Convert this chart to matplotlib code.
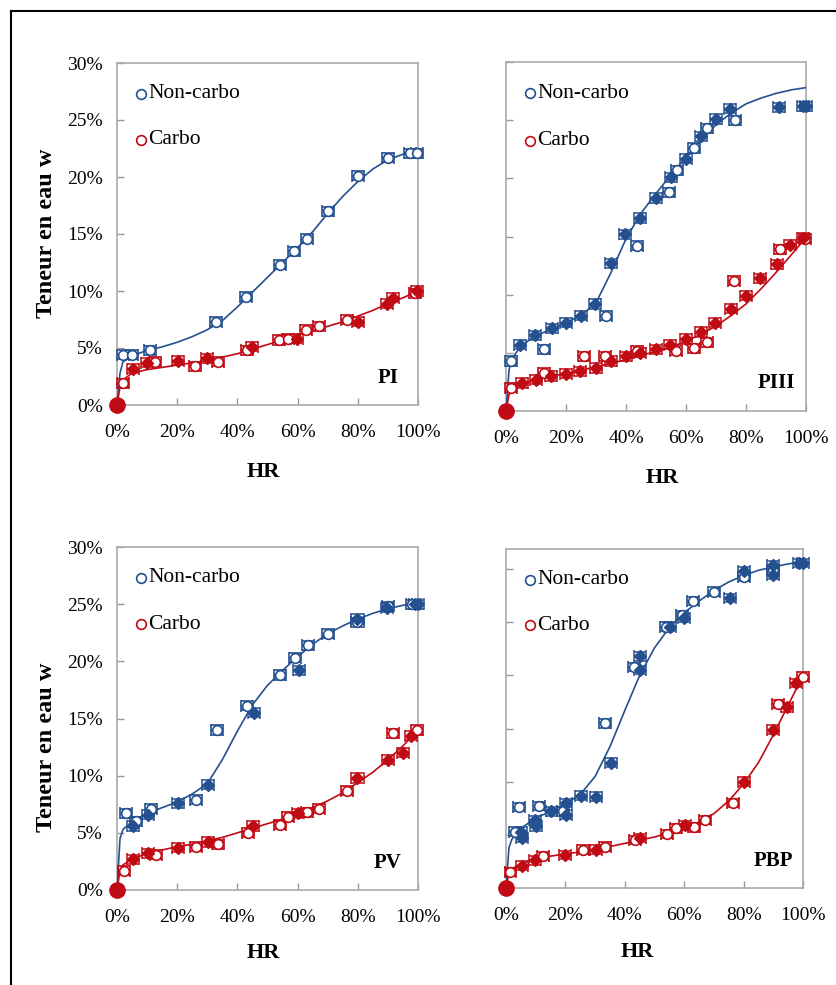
import matplotlib
matplotlib.use("Agg")
import matplotlib.pyplot as plt
from matplotlib.lines import Line2D
from matplotlib.ticker import FuncFormatter

plt.rcParams["font.family"] = ["Liberation Serif", "DejaVu Serif"]

# relative humidity grid (%) used for the fitted curves
curve_hr = [0, 1, 2, 5, 10, 15, 20, 25, 30, 35, 40, 45, 50, 55, 60, 65, 70, 75, 80, 85, 90, 95, 100]

# ---- PI ----
pi_nc_curve = [0, 2.8, 3.8, 4.3, 4.8, 5.1, 5.5, 6.0, 6.6, 7.4, 8.6, 9.9, 11.2, 12.5, 13.8, 15.2, 16.8, 18.3, 19.6, 20.7, 21.5, 22.0, 22.3]
pi_c_curve = [0, 1.6, 2.2, 2.8, 3.1, 3.3, 3.5, 3.7, 3.9, 4.2, 4.5, 4.9, 5.3, 5.7, 6.1, 6.5, 6.9, 7.3, 7.8, 8.3, 8.9, 9.4, 10.0]
pi_nc_open = [(2.1, 4.4), (4.9, 4.4), (11, 4.8), (33, 7.3), (42.7, 9.5), (54.2, 12.3), (58.8, 13.5),
              (63, 14.6), (70, 17.0), (80, 20.1), (90.1, 21.7), (97.3, 22.1), (99.6, 22.1)]
pi_nc_filled = []
pi_c_open = [(1.9, 1.9), (12.6, 3.8), (25.9, 3.4), (33.7, 3.8), (43.3, 4.8), (53.9, 5.7), (56.9, 5.8),
             (62.8, 6.6), (67.1, 6.9), (76.3, 7.5), (99, 9.8)]
pi_c_filled = [(0, 0), (5.2, 3.2), (9.9, 3.7), (20.2, 3.9), (30, 4.1), (45, 5.1), (59.7, 5.8), (80, 7.3),
               (89.6, 8.9), (91.8, 9.4), (99.6, 10.0)]

# ---- PIII ----
piii_nc_curve = [0, 3.5, 4.5, 5.6, 6.5, 7.0, 7.6, 8.2, 9.3, 11.9, 14.8, 17.0, 18.7, 20.3, 21.8, 23.3, 24.6, 25.6, 26.4, 26.9, 27.3, 27.6, 27.8]
piii_c_curve = [0, 1.4, 1.8, 2.3, 2.7, 3.0, 3.2, 3.5, 3.8, 4.1, 4.4, 4.8, 5.1, 5.5, 6.0, 6.6, 7.3, 8.2, 9.2, 10.5, 11.9, 13.4, 14.9]
piii_nc_open = [(1.7, 4.3), (12.5, 5.3), (33.3, 8.2), (43.6, 14.2), (54.2, 18.8), (56.9, 20.7),
                (62.7, 22.6), (66.9, 24.3), (76.4, 25.0)]
piii_nc_filled = [(4.8, 5.7), (9.8, 6.5), (15.3, 7.1), (20, 7.6), (25.1, 8.2), (29.7, 9.2), (35.1, 12.7),
                  (39.7, 15.2), (44.7, 16.6), (49.9, 18.3), (54.9, 20.1), (59.9, 21.7), (64.9, 23.6),
                  (70, 25.1), (74.7, 26.0), (91.1, 26.1), (99.1, 26.2), (100, 26.2)]
piii_c_open = [(1.7, 2.0), (12.8, 3.3), (25.9, 4.7), (33.1, 4.7), (43.6, 5.2), (56.7, 5.2), (62.7, 5.4),
               (66.9, 5.9), (76.1, 11.2), (91.3, 13.9), (99.7, 14.8)]
piii_c_filled = [(0, 0), (5.3, 2.4), (10.1, 2.7), (15.1, 3.0), (20, 3.2), (24.8, 3.4), (30, 3.7),
                 (35.1, 4.3), (40, 4.7), (44.7, 5.0), (49.9, 5.3), (54.7, 5.7), (59.9, 6.2), (65, 6.8),
                 (69.7, 7.6), (74.9, 8.8), (79.9, 9.9), (84.7, 11.4), (90.2, 12.6), (94.7, 14.3), (99.1, 14.9)]

# ---- PV ----
pv_nc_curve = [0, 4.5, 5.3, 6.0, 6.7, 7.2, 7.7, 8.4, 9.3, 11.4, 13.9, 16.2, 17.9, 19.2, 20.4, 21.5, 22.4, 23.1, 23.7, 24.2, 24.6, 24.9, 25.1]
pv_c_curve = [0, 1.7, 2.2, 2.7, 3.2, 3.5, 3.8, 4.0, 4.3, 4.6, 5.0, 5.4, 5.8, 6.2, 6.7, 7.2, 7.8, 8.5, 9.4, 10.3, 11.4, 12.6, 14.0]
pv_nc_open = [(2.9, 6.7), (6.2, 6.0), (11.4, 7.1), (26.4, 7.9), (33.3, 14.0), (43.1, 16.1), (54.2, 18.8),
              (59.2, 20.3), (63.3, 21.4), (70, 22.4), (79.9, 23.4), (90, 24.8), (98, 25.0)]
pv_nc_filled = [(5.3, 5.6), (10.3, 6.6), (20.3, 7.6), (30.3, 9.2), (45.5, 15.5), (60.5, 19.2),
                (79.9, 23.7), (89.7, 24.7), (99.1, 25.0), (100, 25.0)]
pv_c_open = [(2.2, 1.7), (13.1, 3.1), (26.4, 3.8), (33.6, 4.0), (43.6, 5.0), (54.2, 5.7), (56.9, 6.4),
             (63, 6.8), (67.1, 7.1), (76.4, 8.7), (91.7, 13.7), (99.7, 14.0)]
pv_c_filled = [(0, 0), (5.3, 2.7), (10.3, 3.2), (20.3, 3.7), (30.3, 4.2), (45.3, 5.6), (60, 6.7),
               (79.9, 9.8), (89.9, 11.4), (95, 12.0), (97.8, 13.5)]

# ---- PBP ----
pbp_nc_curve = [0, 3.8, 4.6, 5.6, 6.6, 7.2, 7.9, 8.8, 10.5, 13.3, 16.7, 20.0, 22.6, 24.5, 25.9, 27.0, 28.0, 28.8, 29.4, 29.9, 30.2, 30.5, 30.7]
pbp_c_curve = [0, 1.4, 1.8, 2.3, 2.7, 3.0, 3.2, 3.4, 3.6, 3.9, 4.2, 4.5, 4.8, 5.2, 5.6, 6.2, 7.0, 8.2, 9.8, 11.8, 14.4, 17.2, 20.0]
pbp_nc_open = [(2.9, 5.3), (4.5, 7.6), (11, 7.7), (19.1, 7.2), (33.2, 15.5), (43, 20.8), (53.9, 24.6),
               (59.3, 25.7), (63, 27.0), (69.9, 27.9), (80, 29.3), (90, 29.9)]
pbp_nc_filled = [(5.2, 5.3), (5.4, 4.7), (9.9, 6.4), (10.2, 5.8), (15.3, 7.2), (20.2, 8.0), (20.2, 6.9),
                 (25.3, 8.7), (30.3, 8.6), (35.4, 11.8), (45.2, 21.8), (45.2, 20.5), (55.3, 24.6),
                 (60, 25.4), (75.5, 27.3), (80, 29.8), (89.9, 30.4), (89.9, 29.5), (98.5, 30.6), (100, 30.6)]
pbp_c_open = [(1.5, 1.5), (12.5, 3.0), (25.8, 3.6), (33.4, 3.9), (43.3, 4.5), (54.2, 5.1), (57.2, 5.6),
              (63.2, 5.7), (67.1, 6.4), (76.4, 8.0), (91.6, 17.3), (100, 19.9)]
pbp_c_filled = [(0, 0), (5.4, 2.1), (9.9, 2.6), (20, 3.1), (30.3, 3.6), (45.2, 4.7), (60.2, 5.9),
                (80, 10.0), (89.9, 14.9), (94.6, 17.0), (97.6, 19.3)]

BLUE = "#24508f"
RED = "#c00a14"

fig = plt.figure(figsize=(8.36, 9.85), dpi=100)
W, H = 836.0, 985.0


def axes_px(left, top, right, bottom):
    return fig.add_axes([left / W, 1 - bottom / H, (right - left) / W, (bottom - top) / H])


def draw_points(ax, pts, color, filled):
    if not pts:
        return
    for x, y in pts:
        if x == 0 and y == 0:
            ax.plot(x, y, "o", ms=11, color=color, clip_on=False, zorder=5)
            continue
        if filled:
            ax.errorbar(x, y, xerr=2.0, yerr=0.4, fmt="D", ms=6.5, color=color, mec=color,
                        ecolor=color, elinewidth=1.1, capsize=4.5, capthick=1.1, clip_on=False, zorder=4)
        else:
            ax.errorbar(x, y, xerr=2.0, yerr=0.4, fmt="o", ms=7, mfc="white", mec=color,
                        mew=1.2, ecolor=color, elinewidth=1.1, capsize=4.5, capthick=1.1,
                        clip_on=False, zorder=4)


panels = [
    ("PI", (117, 63, 418, 405), 30, True, pi_nc_curve, pi_c_curve, pi_nc_open, pi_nc_filled, pi_c_open, pi_c_filled),
    ("PIII", (506, 62, 806, 411), 30, False, piii_nc_curve, piii_c_curve, piii_nc_open, piii_nc_filled, piii_c_open, piii_c_filled),
    ("PV", (117, 547, 418, 890), 30, True, pv_nc_curve, pv_c_curve, pv_nc_open, pv_nc_filled, pv_c_open, pv_c_filled),
    ("PBP", (506, 549, 803, 888), 31.9, False, pbp_nc_curve, pbp_c_curve, pbp_nc_open, pbp_nc_filled, pbp_c_open, pbp_c_filled),
]

pct = FuncFormatter(lambda v, p: f"{v:.0f}%")

for name, box, ymax, ylabels, nc_curve, c_curve, nc_open, nc_filled, c_open, c_filled in panels:
    ax = axes_px(*box)
    ax.plot(curve_hr, nc_curve, color=BLUE, lw=1.2, zorder=3)
    ax.plot(curve_hr, c_curve, color=RED, lw=1.2, zorder=3)
    draw_points(ax, nc_open, BLUE, False)
    draw_points(ax, nc_filled, BLUE, True)
    draw_points(ax, c_open, RED, False)
    draw_points(ax, c_filled, RED, True)

    ax.set_xlim(0, 100)
    ax.set_ylim(0, ymax)
    ax.set_xticks(range(0, 101, 20))
    ax.set_yticks(range(0, 31, 5))
    ax.xaxis.set_major_formatter(pct)
    ax.yaxis.set_major_formatter(pct)
    ax.tick_params(direction="in", length=5, width=1, color="#999999", labelsize=14)
    ax.tick_params(axis="x", pad=14)
    ax.tick_params(axis="y", pad=10, labelleft=ylabels)
    for s in ax.spines.values():
        s.set_color("#aaaaaa")
        s.set_linewidth(1.2)

    # legend
    ax.plot(0.08, 0.91, "o", ms=7, mfc="none", mec=BLUE, mew=1.2, transform=ax.transAxes)
    ax.text(0.105, 0.91, "Non-carbo", fontsize=15.5, va="center", transform=ax.transAxes)
    ax.plot(0.08, 0.775, "o", ms=7, mfc="none", mec=RED, mew=1.2, transform=ax.transAxes)
    ax.text(0.105, 0.775, "Carbo", fontsize=15.5, va="center", transform=ax.transAxes)

    ax.text(0.9, 0.08, name, fontsize=15, fontweight="bold", ha="center", va="center", transform=ax.transAxes)

# axis labels
for x, y in [(263, 472), (662, 478), (263, 953), (637, 952)]:
    fig.text(x / W, 1 - y / H, "HR", fontsize=16, fontweight="bold", ha="center", va="center")
for y in [233, 747]:
    fig.text(47 / W, 1 - y / H, "Teneur en eau w", fontsize=17.5, fontweight="bold",
             rotation=90, ha="center", va="center")

# outer frame (top and left edges)
fig.add_artist(Line2D([11 / W, 11 / W], [0, 1 - 11 / H], color="black", lw=1.5, transform=fig.transFigure))
fig.add_artist(Line2D([11 / W, 1], [1 - 11 / H, 1 - 11 / H], color="black", lw=1.5, transform=fig.transFigure))

fig.savefig("out.png", dpi=100)
